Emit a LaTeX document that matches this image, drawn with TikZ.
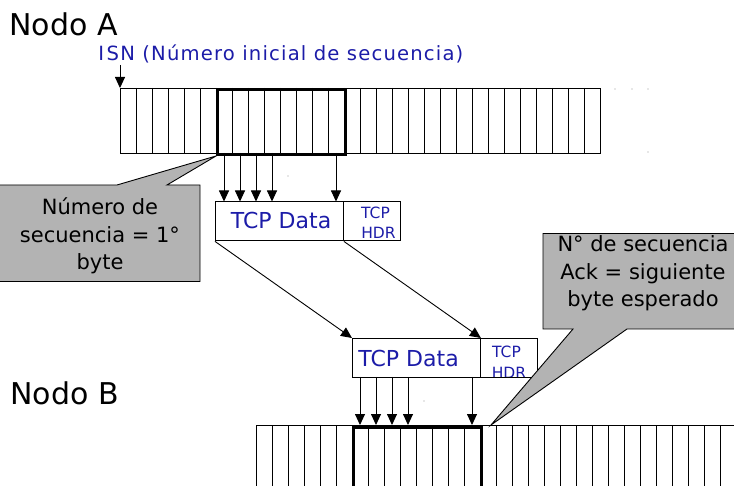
\documentclass[tikz,border=0pt]{standalone}
\usepackage{fontspec}
\setmainfont{DejaVu Sans}
\newfontfamily\spreadfont[LetterSpace=6]{DejaVu Sans}
\usetikzlibrary{arrows.meta}
\definecolor{txtblue}{RGB}{28,28,168}
\definecolor{bubblegray}{RGB}{179,179,179}
\definecolor{speck}{RGB}{150,150,150}
\newcommand{\fs}[2]{\fontsize{#1}{#2}\selectfont}

\begin{document}
\begin{tikzpicture}[x=1pt,y=-1pt,line width=0.9pt,
  tip/.style={-{Triangle[length=11pt,width=10pt]}},
  window/.style={draw,line width=3pt,minimum width=128pt,inner sep=0pt,anchor=north west},
  databox/.style={draw,minimum width=128pt,minimum height=39pt,inner sep=0pt,anchor=north west},
  hdrbox/.style={draw,minimum width=57pt,minimum height=39pt,inner sep=0pt,anchor=north west},
  bubble/.style={draw,fill=bubblegray,line width=0.9pt},
  label/.style={inner sep=0pt,anchor=base west,font=\fs{30}{36}},
  bluetxt/.style={inner sep=0pt,text=txtblue},
  hdrtxt/.style={inner sep=0pt,text=txtblue,anchor=base,font=\fs{15.5}{18}},
  bubbletxt/.style={inner sep=0pt,anchor=base,align=center,font=\fs{21}{27.5}}]
\useasboundingbox (0,0) rectangle (734,486);
\clip (0,0) rectangle (734,486);

% ---------- sender buffer ----------
\node[label] (na) at (9,36) {Nodo A};
\node[bluetxt,anchor=base west] (isnlbl) at (98,61)
  {\spreadfont\fs{19.6}{22}I\hspace{2.5pt}SN (Número inicial de secuencia)};

\draw (120,88) rectangle (600,153);
\foreach \i in {1,...,29} \draw (120+16*\i,88) -- ++(0,65);
\coordinate (s1) at (120,88);
\coordinate (isn) at (120,65);
\draw[tip] (isn) -- (s1);
\node[window,minimum height=65pt] (w1) at (216,88) {};

% ---------- first segment ----------
\node[bluetxt,anchor=base west] (t1) at (230.5,228.3) {\fs{22}{26}TCP Data};
\node[hdrtxt] (t1a) at (375.5,218.5) {TCP};
\node[hdrtxt] (t1b) at (378.5,238.5) {HDR};
\node[databox] (d1) at (215,201.5) {};
\node[hdrbox] (h1) at (343,201.5) {};

\foreach \k in {0,1,2,3,7}
  \draw[tip] (224+16*\k,153) -- (224+16*\k,201.5);

% ---------- second segment ----------
\node[bluetxt,anchor=base west] (t2) at (358,366.7) {\fs{22}{26}TCP Data};
\node[hdrtxt] (t2a) at (506.5,358) {TCP};
\node[hdrtxt] (t2b) at (509,378.5) {HDR};
\node[databox] (d2) at (352,338) {};
\node[hdrbox] (h2) at (480,338) {};

\draw[tip] (d1.south west) -- (d2.north west);
\draw[tip] (d1.south east) -- (d2.north east);

% ---------- receiver buffer ----------
\node[label] (nb) at (10,405) {Nodo B};
\draw (256,425.5) -- (740,425.5);
\foreach \i in {0,...,30} \draw (256+16*\i,425.5) -- ++(0,70);
\node[window,minimum height=80pt] (w2) at (352,425.5) {};

\foreach \k in {0,1,2,3,7}
  \draw[tip] (360+16*\k,377) -- (360+16*\k,425);

% ---------- callouts ----------
\draw[bubble] (-3,185) -- (117,185) -- (w1.south west) -- (167,185)
  -- (200,185) -- (200,281.5) -- (-3,281.5) -- cycle;
\node[bubbletxt] (c1) at (100,270) {Número de\\secuencia = 1°\\byte};

\coordinate (acktip) at (491,425);
\draw[bubble] (543,233.5) -- (740,233.5) -- (740,329) -- (627,329)
  -- (acktip) -- (573,329) -- (543,329) -- cycle;
\node[bubbletxt] (c2) at (643,307) {N° de secuencia\\Ack = siguiente\\byte esperado};

% ---------- stray specks ----------
\foreach \p in {(615,89),(632,89),(648,89),(648,152),(288,176),(424,401)}
  \fill[speck] \p circle (0.7);
\end{tikzpicture}
\end{document}
